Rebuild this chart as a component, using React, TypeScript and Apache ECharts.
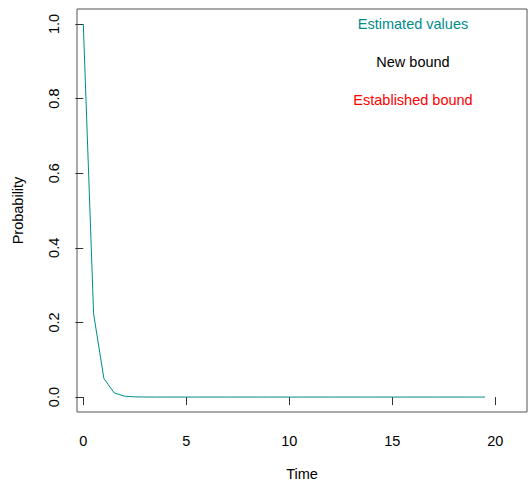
import React, { useEffect, useRef } from "react";
import * as echarts from "echarts";

const times = [
  0, 0.5, 1, 1.5, 2, 2.5, 3, 3.5, 4, 4.5, 5, 5.5, 6, 6.5, 7, 7.5, 8, 8.5, 9, 9.5,
  10, 10.5, 11, 11.5, 12, 12.5, 13, 13.5, 14, 14.5, 15, 15.5, 16, 16.5, 17, 17.5,
  18, 18.5, 19, 19.5,
];
const estimated = [
  1.0, 0.223, 0.0498, 0.0111, 0.0025, 0.00055, 0.00012, 0.00003, 0.00001, 0, 0, 0,
  0, 0, 0, 0, 0, 0, 0, 0, 0, 0, 0, 0, 0, 0, 0, 0, 0, 0, 0, 0, 0, 0, 0, 0, 0, 0, 0, 0,
];
const xTicks = [0, 5, 10, 15, 20];
const yTicks = [0, 0.2, 0.4, 0.6, 0.8, 1.0];
const legendTexts = ["Estimated values", "New bound", "Established bound"];
const legendColors = ["#008B8B", "#000000", "#FF0000"];

const FONT = "Liberation Sans, Arial, sans-serif";

export default function App() {
  const ref = useRef<HTMLDivElement>(null);
  useEffect(() => {
    if (!ref.current) return;
    const chart = echarts.init(ref.current, null, { renderer: "svg" });
    chart.setOption({
      animation: false,
      backgroundColor: "#ffffff",
      grid: {
        left: 77,
        top: 9,
        right: 1,
        bottom: 73,
        show: true,
        borderColor: "#555555",
        borderWidth: 1,
        backgroundColor: "transparent",
      },
      xAxis: {
        type: "value",
        min: -0.306,
        max: 21.54,
        name: "Time",
        nameLocation: "middle",
        nameGap: 54,
        nameTextStyle: { fontFamily: FONT, fontSize: 14.5, color: "#000" },
        axisLine: { show: false },
        splitLine: { show: false },
        axisTick: {
          show: true,
          length: 8,
          customValues: xTicks,
          lineStyle: { color: "#333" },
        },
        axisLabel: {
          customValues: xTicks,
          margin: 21,
          fontFamily: FONT,
          fontSize: 14.5,
          color: "#000",
        },
      },
      yAxis: {
        type: "value",
        min: -0.04,
        max: 1.04,
        name: "Probability",
        nameLocation: "middle",
        nameGap: 52,
        nameTextStyle: { fontFamily: FONT, fontSize: 14.5, color: "#000" },
        axisLine: { show: false },
        splitLine: { show: false },
        axisTick: {
          show: true,
          length: 8,
          customValues: yTicks,
          lineStyle: { color: "#333" },
        },
        axisLabel: {
          customValues: yTicks,
          rotate: 90,
          margin: 16,
          fontFamily: FONT,
          fontSize: 14.5,
          color: "#000",
          formatter: (v: number) => v.toFixed(1),
        },
      },
      graphic: legendTexts.map((t, i) => ({
        type: "text",
        x: 413,
        y: 24 + i * 38,
        style: {
          text: t,
          fill: legendColors[i],
          font: `14.5px ${FONT}`,
          textAlign: "center",
          textVerticalAlign: "middle",
        },
      })),
      series: [
        {
          type: "line",
          data: times.map((t, i) => [t, estimated[i]]),
          showSymbol: false,
          lineStyle: { color: "#008B8B", width: 1 },
          itemStyle: { color: "#008B8B" },
        },
      ],
    });
    return () => chart.dispose();
  }, []);
  return (
    <div
      ref={ref}
      style={{ position: "absolute", left: 0, top: 0, width: 528, height: 486 }}
    />
  );
}
